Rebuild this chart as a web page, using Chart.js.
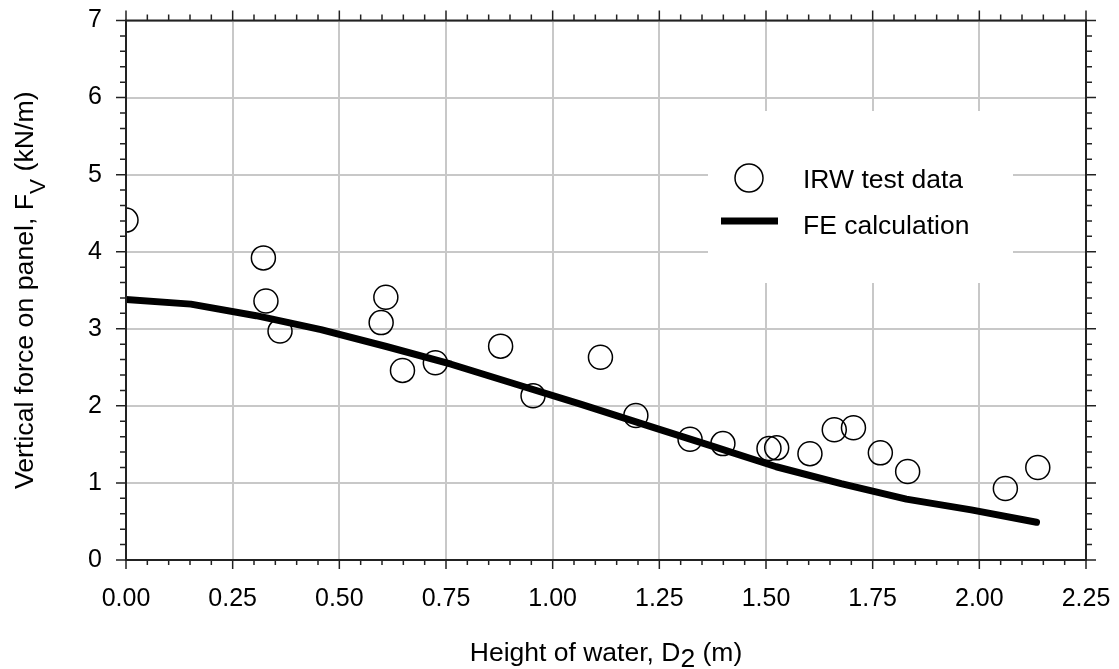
<!DOCTYPE html>
<html>
<head>
<meta charset="utf-8">
<script src="https://cdn.jsdelivr.net/npm/chart.js@4.4.0/dist/chart.umd.min.js"></script>
<style>
  html, body { margin: 0; background: #fff; }
  #wrap { width: 1119px; height: 669px; }
</style>
</head>
<body>
<div id="wrap"><canvas id="chart"></canvas></div>
<script>
// IRW test data (height of water D2 in m, vertical force Fv in kN/m)
const irwX = [0.00, 0.322, 0.328, 0.361, 0.598, 0.609, 0.648, 0.725, 0.878, 0.954, 1.112, 1.195,
              1.322, 1.399, 1.507, 1.525, 1.603, 1.660, 1.705, 1.768, 1.832, 2.061, 2.137];
const irwY = [4.41, 3.92, 3.36, 2.97, 3.08, 3.41, 2.46, 2.56, 2.775, 2.13, 2.63, 1.875,
              1.567, 1.51, 1.447, 1.455, 1.38, 1.69, 1.715, 1.39, 1.148, 0.927, 1.20];

// FE calculation
const feX = [0, 0.152, 0.305, 0.457, 0.610, 0.762, 0.914, 1.067, 1.219, 1.372, 1.524, 1.676, 1.829, 1.981, 2.134];
const feY = [3.38, 3.32, 3.17, 2.99, 2.77, 2.54, 2.28, 2.02, 1.75, 1.48, 1.21, 0.99, 0.79, 0.65, 0.49];

// axes
const xTicks = [0, 0.25, 0.5, 0.75, 1.0, 1.25, 1.5, 1.75, 2.0, 2.25];
const yTicks = [0, 1, 2, 3, 4, 5, 6, 7];
const xMinorPerMajor = 5;   // ticks every 0.05
const yMinorPerMajor = 5;   // ticks every 0.2

const legendLabels = ['IRW test data', 'FE calculation'];

const FONT = "'Liberation Sans', Arial, sans-serif";
const AXIS_COLOR = '#222';

function drawParts(ctx, parts, cx, baseY) {
    let total = 0;
    parts.forEach(p => {
        ctx.font = p.size + 'px ' + FONT;
        p.w = ctx.measureText(p.text).width;
        total += p.w;
    });
    let x = cx - total / 2;
    ctx.textAlign = 'left';
    ctx.textBaseline = 'alphabetic';
    parts.forEach(p => {
        ctx.font = p.size + 'px ' + FONT;
        ctx.fillText(p.text, x, baseY + p.dy);
        x += p.w;
    });
}

function tickValues(ticks, perMajor) {
    const out = [];
    for (let i = 0; i < ticks.length - 1; i++) {
        const step = (ticks[i + 1] - ticks[i]) / perMajor;
        for (let j = 0; j < perMajor; j++) out.push({ v: ticks[i] + j * step, major: j === 0 });
    }
    out.push({ v: ticks[ticks.length - 1], major: true });
    return out;
}

const framePlugin = {
    id: 'frame',
    beforeDatasetsDraw(chart) {
        // white legend box hides the grid behind it
        const ctx = chart.ctx;
        ctx.save();
        ctx.fillStyle = '#fff';
        ctx.fillRect(708, 111, 305, 172);
        ctx.restore();
    },
    afterDraw(chart) {
        const ctx = chart.ctx;
        const a = chart.chartArea;
        const xs = chart.scales.x, ys = chart.scales.y;
        ctx.save();
        ctx.strokeStyle = AXIS_COLOR;
        ctx.lineWidth = 2;
        ctx.strokeRect(a.left, a.top, a.right - a.left, a.bottom - a.top);

        ctx.lineWidth = 1.5;
        ctx.beginPath();
        tickValues(xTicks, xMinorPerMajor).forEach(t => {
            const px = xs.getPixelForValue(t.v);
            const len = t.major ? 9 : 5;
            ctx.moveTo(px, a.bottom); ctx.lineTo(px, a.bottom + len);
            ctx.moveTo(px, a.top); ctx.lineTo(px, a.top - (t.major ? 10 : 6));
        });
        tickValues(yTicks, yMinorPerMajor).forEach(t => {
            const py = ys.getPixelForValue(t.v);
            const len = t.major ? 10 : 6;
            ctx.moveTo(a.left, py); ctx.lineTo(a.left - len, py);
            ctx.moveTo(a.right, py); ctx.lineTo(a.right + len, py);
        });
        ctx.stroke();

        // axis titles
        ctx.fillStyle = '#000';
        drawParts(ctx, [
            { text: 'Height of water, D', size: 26.5, dy: 0 },
            { text: '2', size: 26.5, dy: 6 },
            { text: ' (m)', size: 26.5, dy: 0 }
        ], (a.left + a.right) / 2, 661);

        ctx.translate(33, (a.top + a.bottom) / 2);
        ctx.rotate(-Math.PI / 2);
        drawParts(ctx, [
            { text: 'Vertical force on panel, F', size: 26.7, dy: 0 },
            { text: 'V', size: 22.5, dy: 12 },
            { text: ' (kN/m)', size: 26.7, dy: 0 }
        ], 0, 0);
        ctx.restore();

        // legend
        ctx.save();
        ctx.strokeStyle = '#000';
        ctx.lineWidth = 1.5;
        ctx.beginPath();
        ctx.arc(749, 178, 14, 0, Math.PI * 2);
        ctx.stroke();
        ctx.lineWidth = 7;
        ctx.beginPath();
        ctx.moveTo(721, 221); ctx.lineTo(778, 221);
        ctx.stroke();
        ctx.fillStyle = '#000';
        ctx.font = '26.5px ' + FONT;
        ctx.textAlign = 'left';
        ctx.textBaseline = 'alphabetic';
        ctx.fillText(legendLabels[0], 803, 188);
        ctx.fillText(legendLabels[1], 803, 234);
        ctx.restore();
    }
};

new Chart(document.getElementById('chart'), {
    type: 'scatter',
    data: {
        datasets: [
            {
                label: legendLabels[1],
                data: feX.map((x, i) => ({ x, y: feY[i] })),
                showLine: true,
                borderColor: '#000',
                borderWidth: 7,
                borderCapStyle: 'round',
                borderJoinStyle: 'round',
                pointRadius: 0,
                tension: 0
            },
            {
                label: legendLabels[0],
                data: irwX.map((x, i) => ({ x, y: irwY[i] })),
                showLine: false,
                pointRadius: 12,
                pointBorderWidth: 1.5,
                pointBorderColor: '#000',
                pointBackgroundColor: 'rgba(0,0,0,0)'
            }
        ]
    },
    options: {
        responsive: true,
        maintainAspectRatio: false,
        animation: false,
        layout: { padding: { top: 20.5, right: 33, left: 0, bottom: 0 } },
        plugins: { legend: { display: false }, tooltip: { enabled: false } },
        scales: {
            x: {
                type: 'linear',
                min: xTicks[0],
                max: xTicks[xTicks.length - 1],
                afterBuildTicks: s => { s.ticks = xTicks.map(v => ({ value: v })); },
                afterFit: s => { s.height = 109; s.paddingLeft = 0; s.paddingRight = 0; },
                ticks: {
                    callback: v => Number(v).toFixed(2),
                    font: { family: FONT, size: 25 },
                    color: '#000',
                    padding: 24,
                    maxRotation: 0
                },
                grid: { color: '#c8c8c8', lineWidth: 2, drawTicks: false },
                border: { display: false }
            },
            y: {
                type: 'linear',
                min: yTicks[0],
                max: yTicks[yTicks.length - 1],
                afterBuildTicks: s => { s.ticks = yTicks.map(v => ({ value: v })); },
                afterFit: s => { s.width = 126; s.paddingTop = 0; s.paddingBottom = 0; },
                ticks: {
                    font: { family: FONT, size: 25 },
                    color: '#000',
                    padding: 24
                },
                grid: { color: '#c8c8c8', lineWidth: 2, drawTicks: false },
                border: { display: false }
            }
        }
    },
    plugins: [framePlugin]
});
</script>
</body>
</html>
